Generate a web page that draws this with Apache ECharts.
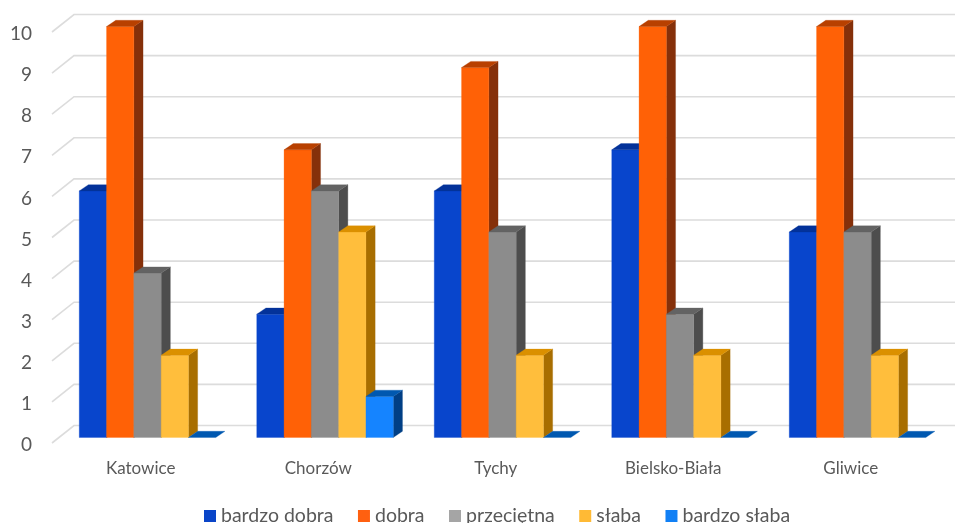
<!DOCTYPE html>
<html>
<head>
<meta charset="utf-8">
<style>html,body{margin:0;padding:0;background:#fff}#c{width:955px;height:523px}</style>
<script src="https://cdn.jsdelivr.net/npm/echarts@6/dist/echarts.min.js"></script>
</head>
<body>
<div id="c"></div>
<script>
const categories = ['Katowice', 'Chorzów', 'Tychy', 'Bielsko-Biała', 'Gliwice'];
const yTicks = [0, 1, 2, 3, 4, 5, 6, 7, 8, 9, 10];
const bardzoDobra = [6, 3, 6, 7, 5];
const dobra = [10, 7, 9, 10, 10];
const przecietna = [4, 6, 5, 3, 5];
const slaba = [2, 5, 2, 2, 2];
const bardzoSlaba = [0, 1, 0, 0, 0];

const seriesDefs = [
  { name: 'bardzo dobra', values: bardzoDobra, front: '#0845CC', side: '#032A7E', top: '#03329A', legend: '#0A45C8' },
  { name: 'dobra', values: dobra, front: '#FF6106', side: '#85300A', top: '#B84000', legend: '#FF6010' },
  { name: 'przeciętna', values: przecietna, front: '#8C8C8C', side: '#4D4D4D', top: '#636363', legend: '#A5A5A5' },
  { name: 'słaba', values: slaba, front: '#FFBE3C', side: '#A86E00', top: '#DB9000', legend: '#FFBA35' },
  { name: 'bardzo słaba', values: bardzoSlaba, front: '#1584FF', side: '#003F86', top: '#0058B0', legend: '#1180F5' }
];

const FONT = 'Lato';
const BAR_W = 27.3, GROUP_OFFSET = -61.5;
const FRONT_DY = -5.5, DEPTH_X = 9.2, DEPTH_Y = -6.2;
const WALL_DX = 22, WALL_DY = -17.5;

function poly(points, fill) {
  return { type: 'polygon', shape: { points }, style: { fill, stroke: fill, lineWidth: 0.3 } };
}

function barRenderer(def, index) {
  return function (params, api) {
    const top = api.coord([api.value(0), api.value(1)]);
    const base = api.coord([api.value(0), 0]);
    const x0 = top[0] + GROUP_OFFSET + index * BAR_W;
    const x1 = x0 + BAR_W;
    const yT = top[1] + FRONT_DY, yB = base[1] + FRONT_DY;
    const children = [];
    if (yB - yT > 0.01) {
      children.push(poly([[x1, yT], [x1 + DEPTH_X, yT + DEPTH_Y], [x1 + DEPTH_X, yB + DEPTH_Y], [x1, yB]], def.side));
      children.push(poly([[x0, yT], [x1, yT], [x1, yB], [x0, yB]], def.front));
    }
    children.push(poly([[x0, yT], [x0 + DEPTH_X, yT + DEPTH_Y], [x1 + DEPTH_X, yT + DEPTH_Y], [x1, yT]], def.top));
    return { type: 'group', children };
  };
}

function wallRenderer(params, api) {
  const p = api.coord([0, api.value(0)]);
  const left = params.coordSys.x;
  const y = p[1];
  const style = { stroke: '#DCDCDC', lineWidth: 1.6, fill: 'none' };
  return {
    type: 'group',
    children: [
      { type: 'polyline', shape: { points: [[left, y], [left + WALL_DX, y + WALL_DY], [api.getWidth(), y + WALL_DY]] }, style }
    ]
  };
}

const chart = echarts.init(document.getElementById('c'), null, { renderer: 'canvas' });
chart.setOption({
  animation: false,
  backgroundColor: '#fff',
  grid: { left: 52, top: 32, width: 887.5, height: 411 },
  xAxis: {
    type: 'category',
    data: categories,
    axisLine: { show: false },
    axisTick: { show: false },
    splitLine: { show: false },
    axisLabel: { color: '#595959', fontFamily: FONT, fontSize: 17, margin: 17 }
  },
  yAxis: {
    type: 'value',
    min: 0,
    max: 10,
    interval: 1,
    axisLine: { show: false },
    axisTick: { show: false },
    splitLine: { show: false },
    axisLabel: {
      color: '#595959', fontFamily: FONT, fontSize: 19, margin: 20,
      formatter: '{v|{value}}',
      rich: { v: { color: '#595959', fontFamily: FONT, fontSize: 19, lineHeight: 19, padding: [4, 0, 0, 0] } }
    }
  },
  legend: {
    left: 204,
    top: 506,
    icon: 'rect',
    itemWidth: 12,
    itemHeight: 12,
    itemGap: 24.5,
    padding: 0,
    selectedMode: false,
    textStyle: { color: '#595959', fontFamily: FONT, fontSize: 19.5, padding: [0, 0, 0, 0] },
    data: seriesDefs.map(d => ({ name: d.name, itemStyle: { color: d.legend } }))
  },
  series: [
    {
      name: 'siatka',
      type: 'custom',
      silent: true,
      clip: false,
      data: yTicks.map(v => [v]),
      encode: { y: 0 },
      renderItem: wallRenderer
    }
  ].concat(seriesDefs.map((d, i) => ({
    name: d.name,
    type: 'custom',
    clip: false,
    itemStyle: { color: d.front },
    data: d.values.map((v, c) => [c, v]),
    encode: { x: 0, y: 1 },
    renderItem: barRenderer(d, i)
  })))
});
</script>
</body>
</html>
